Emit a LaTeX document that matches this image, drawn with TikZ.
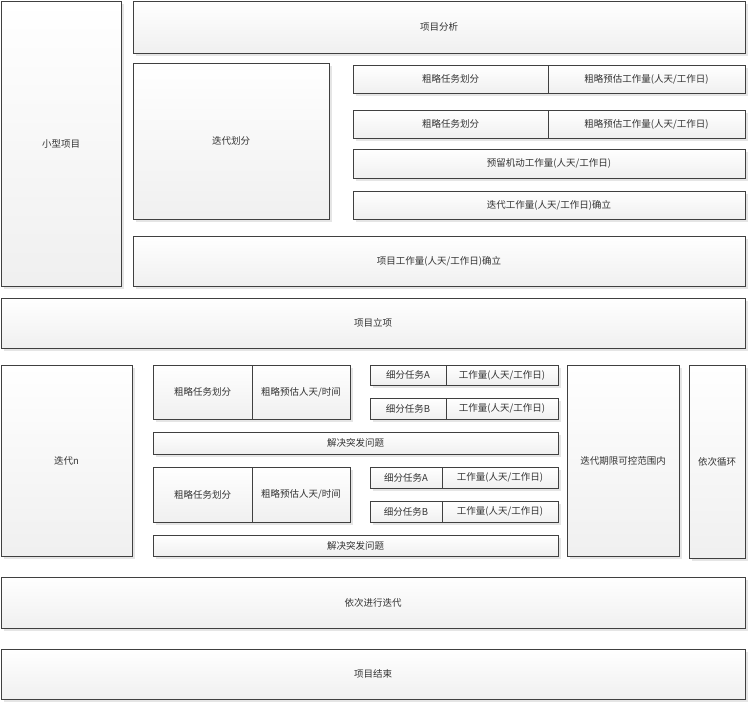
\documentclass[tikz,border=0pt]{standalone}
\usepackage{fontspec}
\setmainfont{Noto Sans CJK SC}
\usetikzlibrary{shadows}
\tikzset{
  box/.style={draw=black!75, line width=0.9pt, top color=white, bottom color=black!6,
    anchor=north west, inner sep=0pt, outer sep=0pt, text=black!80,
    font=\fontsize{9.5}{11}\selectfont,
    drop shadow={shadow xshift=2.5pt, shadow yshift=-2.5pt, fill=black!10, opacity=1}},
  cell/.style={draw=black!75, line width=0.9pt, top color=white, bottom color=black!6,
    anchor=north west, inner sep=0pt, outer sep=0pt, text=black!80,
    font=\fontsize{9.5}{11}\selectfont}
}
\newcommand{\bx}[6]{%
  \pgfmathsetmacro{\bw}{#4-#2}\pgfmathsetmacro{\bh}{#5-#3}%
  \node[box, minimum width=\bw pt, minimum height=\bh pt] (#1) at (#2,#3) {#6};}
\newcommand{\cl}[6]{%
  \pgfmathsetmacro{\bw}{#4-#2}\pgfmathsetmacro{\bh}{#5-#3}%
  \node[cell, minimum width=\bw pt, minimum height=\bh pt] (#1) at (#2,#3) {#6};}
\begin{document}
\begin{tikzpicture}[x=1pt,y=-1pt]
\useasboundingbox (0,0) rectangle (748,702);
\bx{small}{1}{1}{121}{286}{小型项目}
\bx{anal}{133}{1}{745}{53}{项目分析}
\bx{divide}{133}{63}{329}{219}{迭代划分}
% rows
\bx{rowa}{353}{65}{745}{93}{}
\cl{ra1}{353}{65}{548}{93}{粗略任务划分}
\cl{ra2}{548}{65}{745}{93}{粗略预估工作量(人天/工作日)}
\bx{rowb}{353}{110}{745}{138}{}
\cl{rb1}{353}{110}{548}{138}{粗略任务划分}
\cl{rb2}{548}{110}{745}{138}{粗略预估工作量(人天/工作日)}
\bx{reserve}{353}{149}{745}{178}{预留机动工作量(人天/工作日)}
\bx{iterwork}{353}{191}{745}{219}{迭代工作量(人天/工作日)确立}
\bx{projwork}{133}{236}{745}{286}{项目工作量(人天/工作日)确立}
\bx{setup}{1}{298}{745}{348}{项目立项}
\bx{itern}{1}{365}{132}{556}{迭代n}
% group 1
\bx{g1}{153}{365}{350}{419}{}
\cl{g1a}{153}{365}{252}{419}{粗略任务划分}
\cl{g1b}{252}{365}{350}{419}{粗略预估人天/时间}
\bx{t1}{370}{365}{558}{385}{}
\cl{t1a}{370}{365}{446}{385}{细分任务A}
\cl{t1b}{446}{365}{558}{385}{工作量(人天/工作日)}
\bx{t2}{370}{398}{558}{419}{}
\cl{t2a}{370}{398}{446}{419}{细分任务B}
\cl{t2b}{446}{398}{558}{419}{工作量(人天/工作日)}
\bx{solve1}{153}{432}{558}{454}{解决突发问题}
% group 2
\bx{g2}{153}{467}{350}{522}{}
\cl{g2a}{153}{467}{252}{522}{粗略任务划分}
\cl{g2b}{252}{467}{350}{522}{粗略预估人天/时间}
\bx{t3}{370}{467}{558}{488}{}
\cl{t3a}{370}{467}{442}{488}{细分任务A}
\cl{t3b}{442}{467}{558}{488}{工作量(人天/工作日)}
\bx{t4}{370}{501}{558}{522}{}
\cl{t4a}{370}{501}{442}{522}{细分任务B}
\cl{t4b}{442}{501}{558}{522}{工作量(人天/工作日)}
\bx{solve2}{153}{535}{558}{556}{解决突发问题}
\bx{limit}{567}{365}{679}{556}{迭代期限可控范围内}
\bx{loop}{689}{365}{745}{558}{依次循环}
\bx{seq}{1}{577}{745}{628}{依次进行迭代}
\bx{endp}{1}{649}{745}{699}{项目结束}
\end{tikzpicture}
\end{document}
